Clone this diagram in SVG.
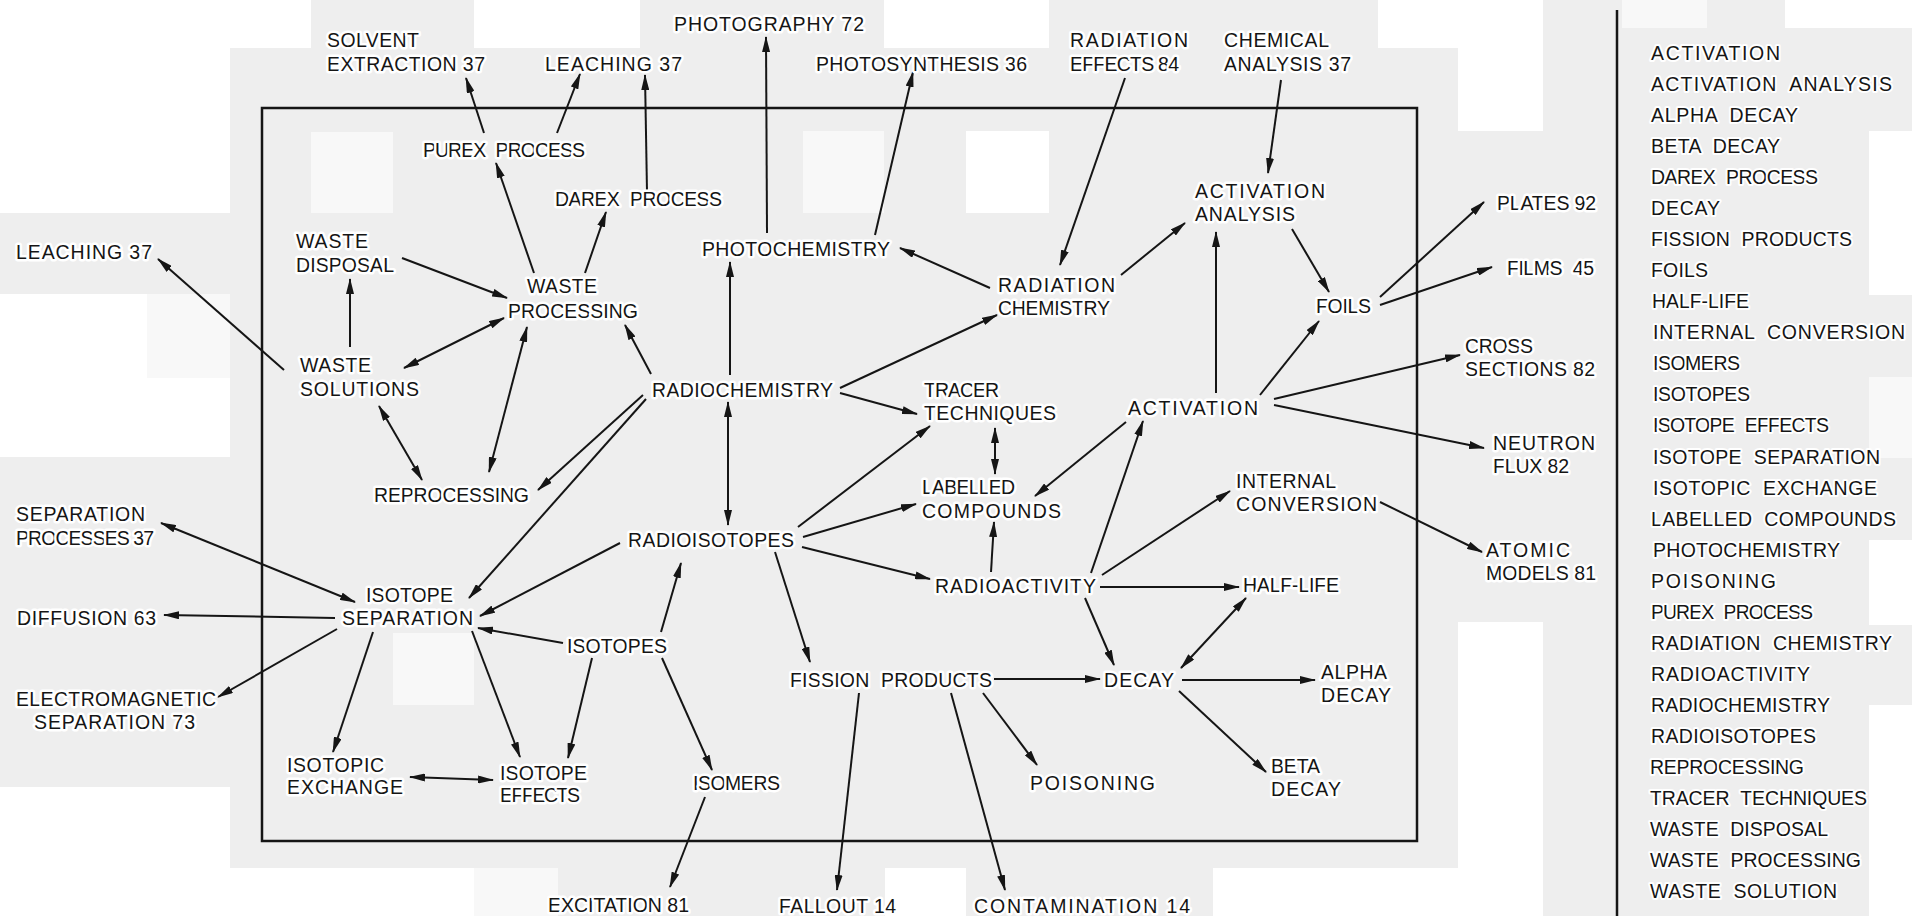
<svg xmlns="http://www.w3.org/2000/svg" width="1912" height="916" viewBox="0 0 1912 916">
<style>
.t{font-family:"Liberation Sans",Arial,sans-serif;font-size:19.5px;fill:#151515;stroke:#fff;stroke-width:5px;paint-order:stroke;stroke-linejoin:round}
.w{word-spacing:6px}
.l{font-family:"Liberation Sans",Arial,sans-serif;font-size:19.5px;fill:#151515;word-spacing:6px;stroke:#fff;stroke-width:4px;paint-order:stroke;stroke-linejoin:round}
.c{fill:none;stroke:#151515;stroke-width:2;marker-end:url(#ah)}
.d{fill:none;stroke:#151515;stroke-width:2;marker-start:url(#ah);marker-end:url(#ah)}
.wb{fill:#ffffff}
.nw{fill:#f8f8f8}
</style>
<defs>
<marker id="ah" viewBox="0 0 16 8" refX="15" refY="4" markerWidth="16" markerHeight="8" markerUnits="userSpaceOnUse" orient="auto-start-reverse"><path d="M0,0 L16,4 L0,8 z" fill="#151515"/></marker>
</defs>
<g id="background">
<rect x="0" y="0" width="1912" height="916" fill="#eeeeee"/>
<rect class="wb" x="0" y="0" width="311" height="48"/>
<rect class="wb" x="0" y="48" width="230" height="165"/>
<rect class="wb" x="0" y="294" width="230" height="163"/>
<rect class="nw" x="147" y="294" width="83" height="84"/>
<rect class="wb" x="474" y="0" width="166" height="48"/>
<rect class="wb" x="884" y="0" width="165" height="48"/>
<rect class="wb" x="966" y="131" width="83" height="82"/>
<rect class="nw" x="311" y="132" width="82" height="81"/>
<rect class="nw" x="803" y="131" width="81" height="82"/>
<rect class="nw" x="393" y="633" width="81" height="72"/>
<rect class="wb" x="1378" y="0" width="80" height="48"/>
<rect class="wb" x="1458" y="0" width="85" height="131"/>
<rect class="nw" x="1622" y="0" width="85" height="28"/>
<rect class="wb" x="1785" y="0" width="127" height="28"/>
<rect class="wb" x="1869" y="131" width="43" height="164"/>
<rect class="nw" x="1869" y="377" width="43" height="81"/>
<rect class="wb" x="1869" y="540" width="43" height="85"/>
<rect class="wb" x="1869" y="705" width="43" height="211"/>
<rect class="wb" x="0" y="787" width="230" height="129"/>
<rect class="wb" x="230" y="868" width="244" height="48"/>
<rect class="nw" x="474" y="868" width="84" height="48"/>
<rect class="wb" x="885" y="868" width="81" height="48"/>
<rect class="wb" x="1213" y="868" width="245" height="48"/>
<rect class="wb" x="1458" y="622" width="85" height="294"/>
</g>
<g id="frame" fill="none" stroke="#151515" stroke-width="2.5">
<rect x="262" y="108" width="1155" height="733"/>
<line x1="1617" y1="10" x2="1617" y2="916"/>
</g>
<g id="connectors">
<path class="c" d="M484,133 L466,78"/>
<path class="c" d="M557,133 L580,74"/>
<path class="c" d="M647,192 L645,75"/>
<path class="c" d="M534,273 L496,163"/>
<path class="c" d="M585,273 L606,212"/>
<path class="c" d="M402,258 L507,298"/>
<path class="c" d="M284,370 L158,259"/>
<path class="c" d="M350,347 L350,279"/>
<path class="c" d="M767,233 L766,37"/>
<path class="c" d="M875,235 L913,72"/>
<path class="c" d="M1125,78 L1060,265"/>
<path class="c" d="M1281,80 L1268,173"/>
<path class="c" d="M990,288 L900,248"/>
<path class="c" d="M1121,275 L1185,223"/>
<path class="c" d="M1292,229 L1329,292"/>
<path class="c" d="M1216,393 L1216,232"/>
<path class="c" d="M840,388 L997,315"/>
<path class="c" d="M840,393 L917,414"/>
<path class="d" d="M728,402 L728,525"/>
<path class="c" d="M730,375 L730,262"/>
<path class="c" d="M1260,395 L1319,321"/>
<path class="c" d="M1126,422 L1035,496"/>
<path class="d" d="M995,428 L995,474"/>
<path class="c" d="M798,527 L930,426"/>
<path class="c" d="M803,537 L916,504"/>
<path class="c" d="M802,547 L930,579"/>
<path class="c" d="M991,572 L994,522"/>
<path class="c" d="M1091,573 L1143,421"/>
<path class="c" d="M1102,575 L1230,491"/>
<path class="c" d="M1100,587 L1239,587"/>
<path class="c" d="M1085,598 L1114,665"/>
<path class="d" d="M1246,598 L1181,668"/>
<path class="c" d="M775,552 L810,662"/>
<path class="c" d="M661,632 L681,563"/>
<path class="c" d="M651,374 L625,325"/>
<path class="d" d="M504,318 L404,368"/>
<path class="d" d="M527,327 L489,472"/>
<path class="d" d="M379,406 L422,480"/>
<path class="c" d="M643,395 L538,490"/>
<path class="c" d="M646,399 L469,598"/>
<path class="d" d="M161,523 L355,602"/>
<path class="c" d="M620,543 L480,616"/>
<path class="c" d="M335,618 L164,615"/>
<path class="c" d="M337,629 L218,697"/>
<path class="c" d="M373,632 L333,752"/>
<path class="c" d="M472,631 L520,757"/>
<path class="c" d="M563,643 L478,628"/>
<path class="c" d="M592,658 L568,758"/>
<path class="d" d="M410,777 L493,780"/>
<path class="c" d="M662,658 L712,770"/>
<path class="c" d="M705,797 L670,887"/>
<path class="c" d="M859,693 L837,890"/>
<path class="c" d="M951,693 L1005,890"/>
<path class="c" d="M983,693 L1037,765"/>
<path class="c" d="M994,679 L1100,679"/>
<path class="c" d="M1182,680 L1315,680"/>
<path class="c" d="M1179,691 L1266,772"/>
<path class="c" d="M1380,297 L1484,202"/>
<path class="c" d="M1380,305 L1492,267"/>
<path class="c" d="M1274,399 L1460,355"/>
<path class="c" d="M1274,405 L1484,448"/>
<path class="c" d="M1380,502 L1482,552"/>
</g>
<g id="n-solvent-extraction"><text class="t" x="327" y="47" textLength="92" lengthAdjust="spacing">SOLVENT</text><text class="t" x="327" y="71" textLength="158" lengthAdjust="spacing">EXTRACTION 37</text></g>
<g id="n-leaching-top"><text class="t" x="545" y="71" textLength="137" lengthAdjust="spacing">LEACHING 37</text></g>
<g id="n-photography"><text class="t" x="674" y="31" textLength="190" lengthAdjust="spacing">PHOTOGRAPHY 72</text></g>
<g id="n-photosynthesis"><text class="t" x="816" y="71" textLength="211" lengthAdjust="spacing">PHOTOSYNTHESIS 36</text></g>
<g id="n-radiation-effects"><text class="t" x="1070" y="47" textLength="118" lengthAdjust="spacing">RADIATION</text><text class="t" x="1070" y="71" textLength="109" lengthAdjust="spacing">EFFECTS 84</text></g>
<g id="n-chemical-analysis"><text class="t" x="1224" y="47" textLength="105" lengthAdjust="spacing">CHEMICAL</text><text class="t" x="1224" y="71" textLength="127" lengthAdjust="spacing">ANALYSIS 37</text></g>
<g id="n-purex"><text class="t w" x="423" y="157" textLength="162" lengthAdjust="spacing">PUREX PROCESS</text></g>
<g id="n-darex"><text class="t w" x="555" y="206" textLength="167" lengthAdjust="spacing">DAREX PROCESS</text></g>
<g id="n-waste-disposal"><text class="t" x="296" y="248" textLength="72" lengthAdjust="spacing">WASTE</text><text class="t" x="296" y="272" textLength="98" lengthAdjust="spacing">DISPOSAL</text></g>
<g id="n-leaching-left"><text class="t" x="16" y="259" textLength="136" lengthAdjust="spacing">LEACHING 37</text></g>
<g id="n-waste-processing"><text class="t" x="527" y="293" textLength="70" lengthAdjust="spacing">WASTE</text><text class="t" x="508" y="318" textLength="130" lengthAdjust="spacing">PROCESSING</text></g>
<g id="n-photochemistry"><text class="t" x="702" y="256" textLength="188" lengthAdjust="spacing">PHOTOCHEMISTRY</text></g>
<g id="n-radiation-chemistry"><text class="t" x="998" y="292" textLength="117" lengthAdjust="spacing">RADIATION</text><text class="t" x="998" y="315" textLength="112" lengthAdjust="spacing">CHEMISTRY</text></g>
<g id="n-activation-analysis"><text class="t" x="1195" y="198" textLength="130" lengthAdjust="spacing">ACTIVATION</text><text class="t" x="1195" y="221" textLength="100" lengthAdjust="spacing">ANALYSIS</text></g>
<g id="n-foils"><text class="t" x="1316" y="313" textLength="55" lengthAdjust="spacing">FOILS</text></g>
<g id="n-waste-solutions"><text class="t" x="300" y="372" textLength="71" lengthAdjust="spacing">WASTE</text><text class="t" x="300" y="396" textLength="119" lengthAdjust="spacing">SOLUTIONS</text></g>
<g id="n-reprocessing"><text class="t" x="374" y="502" textLength="155" lengthAdjust="spacing">REPROCESSING</text></g>
<g id="n-separation-processes"><text class="t" x="16" y="521" textLength="129" lengthAdjust="spacing">SEPARATION</text><text class="t" x="16" y="545" textLength="138" lengthAdjust="spacing">PROCESSES 37</text></g>
<g id="n-isotope-separation"><text class="t" x="366" y="602" textLength="87" lengthAdjust="spacing">ISOTOPE</text><text class="t" x="342" y="625" textLength="131" lengthAdjust="spacing">SEPARATION</text></g>
<g id="n-diffusion"><text class="t" x="17" y="625" textLength="139" lengthAdjust="spacing">DIFFUSION 63</text></g>
<g id="n-electromagnetic"><text class="t" x="16" y="706" textLength="200" lengthAdjust="spacing">ELECTROMAGNETIC</text><text class="t" x="34" y="729" textLength="161" lengthAdjust="spacing">SEPARATION 73</text></g>
<g id="n-isotopes"><text class="t" x="567" y="653" textLength="100" lengthAdjust="spacing">ISOTOPES</text></g>
<g id="n-isotopic-exchange"><text class="t" x="287" y="772" textLength="97" lengthAdjust="spacing">ISOTOPIC</text><text class="t" x="287" y="794" textLength="116" lengthAdjust="spacing">EXCHANGE</text></g>
<g id="n-isotope-effects"><text class="t" x="500" y="780" textLength="87" lengthAdjust="spacing">ISOTOPE</text><text class="t" x="500" y="802" textLength="80" lengthAdjust="spacing">EFFECTS</text></g>
<g id="n-excitation"><text class="t" x="548" y="912" textLength="141" lengthAdjust="spacing">EXCITATION 81</text></g>
<g id="n-radiochemistry"><text class="t" x="652" y="397" textLength="181" lengthAdjust="spacing">RADIOCHEMISTRY</text></g>
<g id="n-tracer"><text class="t" x="924" y="397" textLength="75" lengthAdjust="spacing">TRACER</text><text class="t" x="924" y="420" textLength="132" lengthAdjust="spacing">TECHNIQUES</text></g>
<g id="n-activation"><text class="t" x="1128" y="415" textLength="130" lengthAdjust="spacing">ACTIVATION</text></g>
<g id="n-labelled"><text class="t" x="922" y="494" textLength="93" lengthAdjust="spacing">LABELLED</text><text class="t" x="922" y="518" textLength="139" lengthAdjust="spacing">COMPOUNDS</text></g>
<g id="n-internal-conversion"><text class="t" x="1236" y="488" textLength="100" lengthAdjust="spacing">INTERNAL</text><text class="t" x="1236" y="511" textLength="141" lengthAdjust="spacing">CONVERSION</text></g>
<g id="n-radioisotopes"><text class="t" x="628" y="547" textLength="166" lengthAdjust="spacing">RADIOISOTOPES</text></g>
<g id="n-radioactivity"><text class="t" x="935" y="593" textLength="161" lengthAdjust="spacing">RADIOACTIVITY</text></g>
<g id="n-half-life"><text class="t" x="1243" y="592" textLength="96" lengthAdjust="spacing">HALF-LIFE</text></g>
<g id="n-fission-products"><text class="t w" x="790" y="687" textLength="202" lengthAdjust="spacing">FISSION PRODUCTS</text></g>
<g id="n-decay"><text class="t" x="1104" y="687" textLength="70" lengthAdjust="spacing">DECAY</text></g>
<g id="n-alpha-decay"><text class="t" x="1321" y="679" textLength="66" lengthAdjust="spacing">ALPHA</text><text class="t" x="1321" y="702" textLength="70" lengthAdjust="spacing">DECAY</text></g>
<g id="n-isomers"><text class="t" x="693" y="790" textLength="87" lengthAdjust="spacing">ISOMERS</text></g>
<g id="n-poisoning"><text class="t" x="1030" y="790" textLength="125" lengthAdjust="spacing">POISONING</text></g>
<g id="n-beta-decay"><text class="t" x="1271" y="773" textLength="49" lengthAdjust="spacing">BETA</text><text class="t" x="1271" y="796" textLength="70" lengthAdjust="spacing">DECAY</text></g>
<g id="n-fallout"><text class="t" x="779" y="913" textLength="117" lengthAdjust="spacing">FALLOUT 14</text></g>
<g id="n-contamination"><text class="t" x="974" y="913" textLength="216" lengthAdjust="spacing">CONTAMINATION 14</text></g>
<g id="n-plates"><text class="t" x="1497" y="210" textLength="99" lengthAdjust="spacing">PLATES 92</text></g>
<g id="n-films"><text class="t w" x="1507" y="275" textLength="87" lengthAdjust="spacing">FILMS 45</text></g>
<g id="n-cross-sections"><text class="t" x="1465" y="353" textLength="68" lengthAdjust="spacing">CROSS</text><text class="t" x="1465" y="376" textLength="130" lengthAdjust="spacing">SECTIONS 82</text></g>
<g id="n-neutron-flux"><text class="t" x="1493" y="450" textLength="102" lengthAdjust="spacing">NEUTRON</text><text class="t" x="1493" y="473" textLength="76" lengthAdjust="spacing">FLUX 82</text></g>
<g id="n-atomic-models"><text class="t" x="1486" y="557" textLength="84" lengthAdjust="spacing">ATOMIC</text><text class="t" x="1486" y="580" textLength="110" lengthAdjust="spacing">MODELS 81</text></g>
<g id="index-list">
<text class="l" x="1651" y="60" textLength="129" lengthAdjust="spacing">ACTIVATION</text>
<text class="l" x="1651" y="91" textLength="241" lengthAdjust="spacing">ACTIVATION ANALYSIS</text>
<text class="l" x="1651" y="122" textLength="147" lengthAdjust="spacing">ALPHA DECAY</text>
<text class="l" x="1651" y="153" textLength="129" lengthAdjust="spacing">BETA DECAY</text>
<text class="l" x="1651" y="184" textLength="167" lengthAdjust="spacing">DAREX PROCESS</text>
<text class="l" x="1651" y="215" textLength="69" lengthAdjust="spacing">DECAY</text>
<text class="l" x="1651" y="246" textLength="201" lengthAdjust="spacing">FISSION PRODUCTS</text>
<text class="l" x="1651" y="277" textLength="57" lengthAdjust="spacing">FOILS</text>
<text class="l" x="1652" y="308" textLength="97" lengthAdjust="spacing">HALF-LIFE</text>
<text class="l" x="1653" y="339" textLength="252" lengthAdjust="spacing">INTERNAL CONVERSION</text>
<text class="l" x="1653" y="370" textLength="87" lengthAdjust="spacing">ISOMERS</text>
<text class="l" x="1653" y="401" textLength="97" lengthAdjust="spacing">ISOTOPES</text>
<text class="l" x="1653" y="432" textLength="176" lengthAdjust="spacing">ISOTOPE EFFECTS</text>
<text class="l" x="1653" y="464" textLength="227" lengthAdjust="spacing">ISOTOPE SEPARATION</text>
<text class="l" x="1653" y="495" textLength="224" lengthAdjust="spacing">ISOTOPIC EXCHANGE</text>
<text class="l" x="1651" y="526" textLength="245" lengthAdjust="spacing">LABELLED COMPOUNDS</text>
<text class="l" x="1653" y="557" textLength="187" lengthAdjust="spacing">PHOTOCHEMISTRY</text>
<text class="l" x="1651" y="588" textLength="125" lengthAdjust="spacing">POISONING</text>
<text class="l" x="1651" y="619" textLength="162" lengthAdjust="spacing">PUREX PROCESS</text>
<text class="l" x="1651" y="650" textLength="241" lengthAdjust="spacing">RADIATION CHEMISTRY</text>
<text class="l" x="1651" y="681" textLength="159" lengthAdjust="spacing">RADIOACTIVITY</text>
<text class="l" x="1651" y="712" textLength="179" lengthAdjust="spacing">RADIOCHEMISTRY</text>
<text class="l" x="1651" y="743" textLength="165" lengthAdjust="spacing">RADIOISOTOPES</text>
<text class="l" x="1650" y="774" textLength="154" lengthAdjust="spacing">REPROCESSING</text>
<text class="l" x="1650" y="805" textLength="217" lengthAdjust="spacing">TRACER TECHNIQUES</text>
<text class="l" x="1650" y="836" textLength="178" lengthAdjust="spacing">WASTE DISPOSAL</text>
<text class="l" x="1650" y="867" textLength="211" lengthAdjust="spacing">WASTE PROCESSING</text>
<text class="l" x="1650" y="898" textLength="187" lengthAdjust="spacing">WASTE SOLUTION</text>
</g>
</svg>
